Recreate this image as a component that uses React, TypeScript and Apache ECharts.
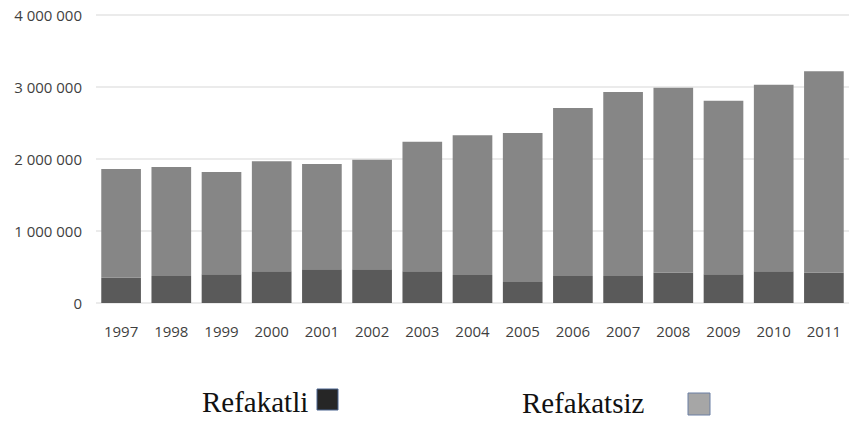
import React, { useEffect, useRef } from "react";
import * as echarts from "echarts";

const years = ["1997", "1998", "1999", "2000", "2001", "2002", "2003", "2004", "2005", "2006", "2007", "2008", "2009", "2010", "2011"];
const seriesNames = ["Refakatli", "Refakatsiz"];
const refakatli = [350000, 375000, 400000, 440000, 470000, 470000, 440000, 390000, 290000, 375000, 375000, 420000, 400000, 440000, 420000];
const refakatsiz = [1510000, 1515000, 1420000, 1530000, 1460000, 1520000, 1800000, 1940000, 2070000, 2335000, 2555000, 2570000, 2410000, 2590000, 2800000];

const fmt = (v: number) => String(v).replace(/\B(?=(\d{3})+(?!\d))/g, " ");

export default function App() {
  const ref = useRef<HTMLDivElement>(null);
  useEffect(() => {
    if (!ref.current) return;
    const chart = echarts.init(ref.current, null, { renderer: "svg" });
    chart.setOption({
      animation: false,
      backgroundColor: "#ffffff",
      grid: { left: 96, top: 15, width: 760, height: 288, containLabel: false },
      xAxis: {
        type: "category",
        data: years,
        axisLine: { show: false },
        axisTick: { show: false },
        axisLabel: { margin: 20, color: "#3f3f3f", fontSize: 15, fontFamily: "Open Sans" },
      },
      yAxis: {
        type: "value",
        min: 0,
        max: 4000000,
        interval: 1000000,
        axisLine: { show: false },
        axisTick: { show: false },
        splitLine: { lineStyle: { color: "#ebebeb", width: 2 } },
        axisLabel: { margin: 14, color: "#3f3f3f", fontSize: 15, fontFamily: "Open Sans", formatter: (v: number) => fmt(v) },
      },
      series: [
        {
          name: seriesNames[0],
          type: "bar",
          stack: "total",
          data: refakatli,
          barCategoryGap: "21%",
          itemStyle: { color: "#5a5a5a" },
        },
        {
          name: seriesNames[1],
          type: "bar",
          stack: "total",
          data: refakatsiz,
          barCategoryGap: "21%",
          itemStyle: { color: "#868686" },
        },
      ],
      graphic: [
        {
          type: "text",
          x: 202,
          y: 387,
          style: { text: seriesNames[0], font: "29px 'Liberation Serif'", fill: "#111" },
        },
        {
          type: "rect",
          shape: { x: 317, y: 389, width: 21, height: 21 },
          style: { fill: "#262626", stroke: "#4a6590", lineWidth: 1 },
        },
        {
          type: "text",
          x: 522,
          y: 388,
          style: { text: seriesNames[1], font: "29px 'Liberation Serif'", fill: "#111" },
        },
        {
          type: "rect",
          shape: { x: 688, y: 393, width: 22, height: 22 },
          style: { fill: "#a6a6a6", stroke: "#6a7fa3", lineWidth: 1 },
        },
      ],
    });
    return () => chart.dispose();
  }, []);
  return <div ref={ref} style={{ position: "absolute", left: 0, top: 0, width: 849, height: 423 }} />;
}
